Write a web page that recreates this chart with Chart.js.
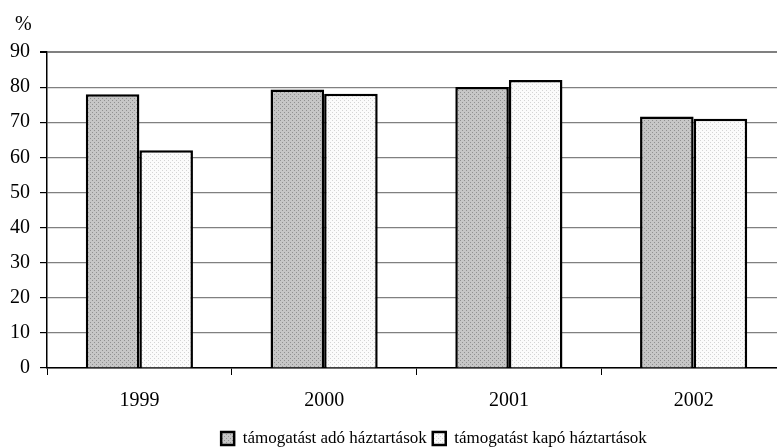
<!DOCTYPE html>
<html>
<head>
<meta charset="utf-8">
<script src="https://cdn.jsdelivr.net/npm/chart.js@4/dist/chart.umd.min.js"></script>
<style>
  html, body { margin: 0; padding: 0; background: #fff; }
  /* the original picture is cropped on the right and bottom edges */
  #wrap { width: 777px; height: 448px; overflow: hidden; }
</style>
</head>
<body>
<div id="wrap"><canvas id="chart" width="786" height="457"></canvas></div>
<script>
// chart values
const years = ['1999', '2000', '2001', '2002'];
const givingHouseholds = [78, 79.3, 80, 71.6];
const receivingHouseholds = [62, 78.1, 82, 71];
const seriesNames = ['támogatást adó háztartások', 'támogatást kapó háztartások'];
const yTicks = [0, 10, 20, 30, 40, 50, 60, 70, 80, 90];

const FONT = '"Liberation Serif", "Times New Roman", serif';

// small dotted textures like the old office fill patterns
function makePattern(bg, dot) {
    const c = document.createElement('canvas');
    c.width = 4; c.height = 4;
    const g = c.getContext('2d');
    g.fillStyle = bg;
    g.fillRect(0, 0, 4, 4);
    g.fillStyle = dot;
    g.fillRect(0, 0, 1, 1);
    g.fillRect(2, 2, 1, 1);
    return g.createPattern(c, 'repeat');
}

const grayFill = makePattern('#c6c6c6', '#909090');
const lightFill = makePattern('#fbfbfb', '#d4d4d4');

const percentLabel = {
    id: 'percentLabel',
    afterDraw(chart) {
        const ctx = chart.ctx;
        ctx.save();
        ctx.font = '20px ' + FONT;
        ctx.fillStyle = '#000';
        ctx.textBaseline = 'middle';
        ctx.fillText('%', 15, 25);
        ctx.restore();
    }
};

// legend in the original sits right of centre
const legendShift = {
    id: 'legendShift',
    afterLayout(chart) {
        chart.legend.left += 41;
        chart.legend.right += 41;
    }
};

new Chart(document.getElementById('chart'), {
    type: 'bar',
    data: {
        labels: years,
        datasets: [{
            label: seriesNames[0],
            data: givingHouseholds,
            backgroundColor: grayFill,
            borderColor: '#000',
            borderWidth: 2.5
        }, {
            label: seriesNames[1],
            data: receivingHouseholds,
            backgroundColor: lightFill,
            borderColor: '#000',
            borderWidth: 2.5
        }]
    },
    options: {
        responsive: false,
        animation: false,
        layout: { padding: { top: 52, right: 0, left: 0, bottom: 0 } },
        datasets: { bar: { barPercentage: 1, categoryPercentage: 0.58 } },
        plugins: {
            legend: {
                position: 'bottom',
                labels: {
                    color: '#000',
                    font: { family: FONT, size: 17 },
                    boxWidth: 13,
                    boxHeight: 13,
                    padding: 6,
                    generateLabels(chart) {
                        return chart.data.datasets.map((ds, i) => ({
                            text: ds.label,
                            fillStyle: ds.backgroundColor,
                            strokeStyle: '#000',
                            lineWidth: 2.5,
                            datasetIndex: i
                        }));
                    }
                }
            },
            tooltip: { enabled: false }
        },
        scales: {
            x: {
                offset: true,
                afterFit(axis) { axis.height = 56; },
                grid: {
                    offset: true,
                    drawOnChartArea: false,
                    drawTicks: true,
                    tickLength: 7,
                    color: '#000',
                    lineWidth: 1
                },
                border: { color: '#000', width: 1.5 },
                ticks: { color: '#000', font: { family: FONT, size: 20 }, padding: 14 }
            },
            y: {
                min: 0,
                max: 90,
                afterBuildTicks(axis) {
                    axis.ticks = yTicks.map(v => ({ value: v }));
                },
                afterFit(axis) { axis.width = 47; },
                grid: {
                    color: '#808080',
                    lineWidth: ctx => (ctx.tick && ctx.tick.value === 90 ? 2 : 1.2),
                    drawTicks: true,
                    tickLength: 7,
                    tickColor: '#000'
                },
                border: { color: '#000', width: 1.5 },
                ticks: { color: '#000', font: { family: FONT, size: 20 }, padding: 10 }
            }
        }
    },
    plugins: [percentLabel, legendShift]
});
</script>
</body>
</html>
